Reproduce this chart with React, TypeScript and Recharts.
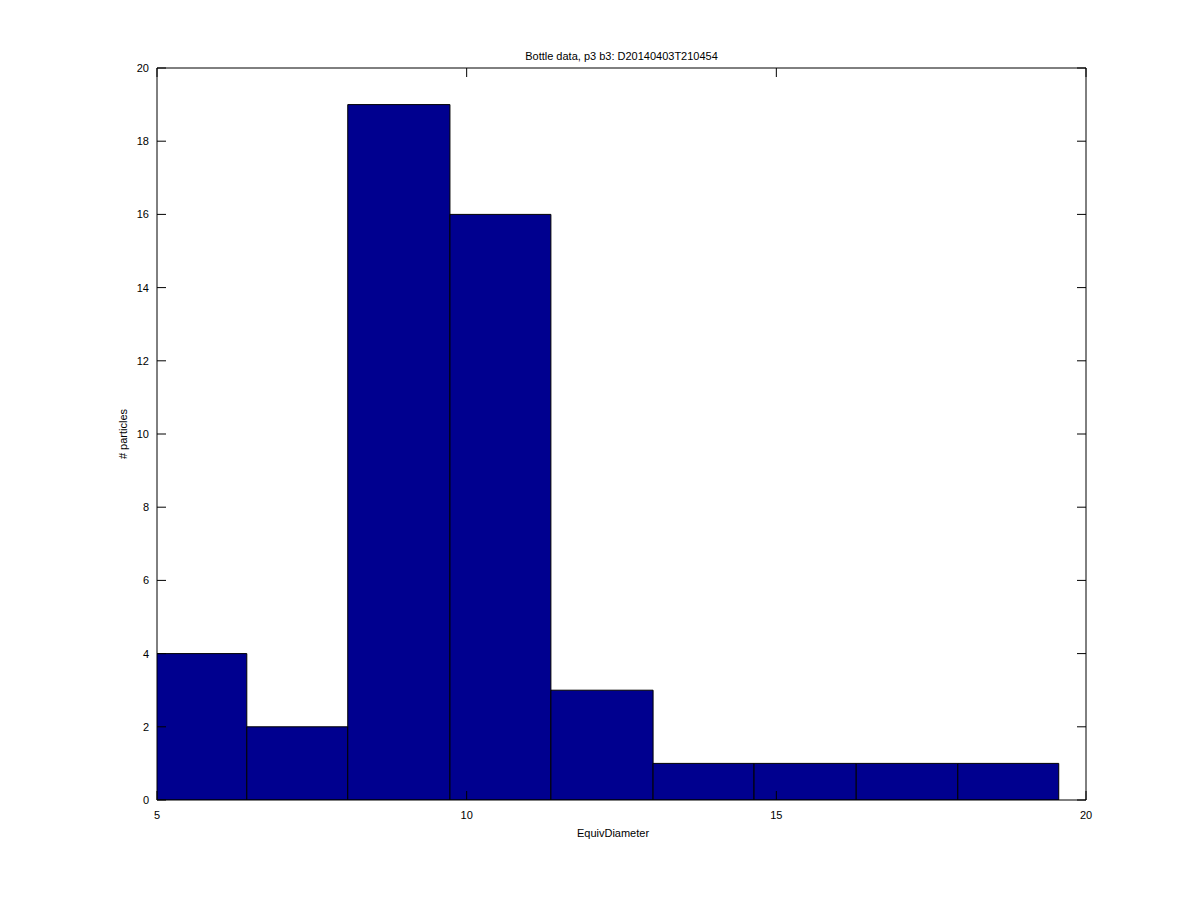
import React from "react";
import { ComposedChart, XAxis, YAxis, ReferenceArea, Line } from "recharts";

const binEdges = [4.82, 6.45, 8.08, 9.73, 11.36, 13.01, 14.64, 16.29, 17.93, 19.56];
const counts = [4, 2, 19, 16, 3, 1, 1, 1, 1];
const xTicks = [5, 10, 15, 20];
const yTicks = [0, 2, 4, 6, 8, 10, 12, 14, 16, 18, 20];

const title = "Bottle data, p3 b3: D20140403T210454";
const xLabel = "EquivDiameter";
const yLabel = "# particles";

const FONT = "'Liberation Sans', Arial, sans-serif";
const TICK_LEN = 9;

const bins = counts.map((c, i) => ({ x1: binEdges[i], x2: binEdges[i + 1], count: c }));

function LeftTick(props: any) {
  const { x, y, payload } = props;
  return (
    <g>
      <line x1={x} x2={x + TICK_LEN} y1={y} y2={y} stroke="#000" />
      <text x={x - 8} y={y} dy={4} textAnchor="end" fontSize={11} fontFamily={FONT} fill="#000">
        {payload.value}
      </text>
    </g>
  );
}

function RightTick(props: any) {
  const { x, y } = props;
  return <line x1={x - TICK_LEN} x2={x} y1={y} y2={y} stroke="#000" />;
}

function BottomTick(props: any) {
  const { x, y, payload } = props;
  return (
    <g>
      <line x1={x} x2={x} y1={y - TICK_LEN} y2={y} stroke="#000" />
      <text x={x} y={y + 19} textAnchor="middle" fontSize={11} fontFamily={FONT} fill="#000">
        {payload.value}
      </text>
    </g>
  );
}

function TopTick(props: any) {
  const { x, y } = props;
  return <line x1={x} x2={x} y1={y} y2={y + TICK_LEN} stroke="#000" />;
}

export default function App() {
  return (
    <div style={{ position: "absolute", left: 0, top: 0, width: 1200, height: 900, background: "#fff" }}>
      <ComposedChart
        width={1200}
        height={900}
        data={bins}
        margin={{ top: 67, right: 113, bottom: 99, left: 156 }}
      >
        <XAxis
          xAxisId={0}
          type="number"
          dataKey="x1"
          domain={[5, 20]}
          ticks={xTicks}
          allowDataOverflow
          height={1}
          tickSize={0}
          tickMargin={0}
          tickLine={false}
          axisLine={{ stroke: "#000" }}
          tick={<BottomTick />}
          interval={0}
        />
        <XAxis
          xAxisId="top"
          orientation="top"
          type="number"
          dataKey="x1"
          domain={[5, 20]}
          ticks={xTicks}
          allowDataOverflow
          height={1}
          tickSize={0}
          tickMargin={0}
          tickLine={false}
          axisLine={{ stroke: "#000" }}
          tick={<TopTick />}
          interval={0}
        />
        <YAxis
          yAxisId={0}
          type="number"
          domain={[0, 20]}
          ticks={yTicks}
          allowDataOverflow
          width={1}
          tickSize={0}
          tickMargin={0}
          tickLine={false}
          axisLine={{ stroke: "#000" }}
          tick={<LeftTick />}
          interval={0}
        />
        <YAxis
          yAxisId="right"
          orientation="right"
          type="number"
          domain={[0, 20]}
          ticks={yTicks}
          allowDataOverflow
          width={1}
          tickSize={0}
          tickMargin={0}
          tickLine={false}
          axisLine={{ stroke: "#000" }}
          tick={<RightTick />}
          interval={0}
        />
        <Line
          xAxisId={0}
          yAxisId={0}
          dataKey="count"
          stroke="none"
          dot={false}
          activeDot={false}
          isAnimationActive={false}
        />
        <Line
          xAxisId="top"
          yAxisId="right"
          dataKey="count"
          stroke="none"
          dot={false}
          activeDot={false}
          isAnimationActive={false}
        />
        {bins.map((b, i) => (
          <ReferenceArea
            key={i}
            xAxisId={0}
            yAxisId={0}
            x1={b.x1}
            x2={b.x2}
            y1={0}
            y2={b.count}
            ifOverflow="hidden"
            fill="#00008F"
            fillOpacity={1}
            stroke="#000"
            strokeWidth={1}
          />
        ))}
      </ComposedChart>
      <div
        style={{
          position: "absolute",
          left: 157,
          width: 929,
          top: 50,
          textAlign: "center",
          fontFamily: FONT,
          fontSize: 11,
          color: "#000",
        }}
      >
        {title}
      </div>
      <div
        style={{
          position: "absolute",
          left: 513,
          width: 200,
          top: 827,
          textAlign: "center",
          fontFamily: FONT,
          fontSize: 11,
          color: "#000",
        }}
      >
        {xLabel}
      </div>
      <div
        style={{
          position: "absolute",
          left: 23,
          width: 200,
          top: 428,
          textAlign: "center",
          fontFamily: FONT,
          fontSize: 11,
          color: "#000",
          transform: "rotate(-90deg)",
        }}
      >
        {yLabel}
      </div>
    </div>
  );
}
